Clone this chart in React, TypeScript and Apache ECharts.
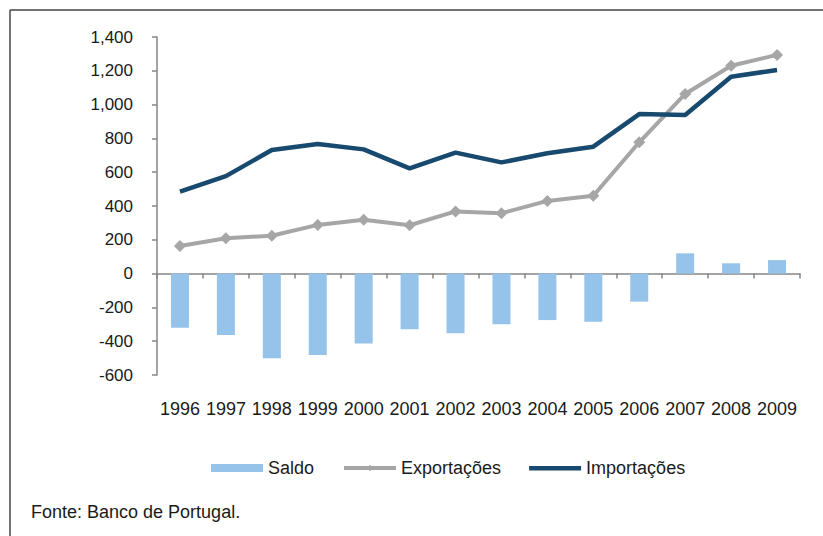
import React, { useEffect, useRef } from "react";
import * as echarts from "echarts";

const years = ["1996","1997","1998","1999","2000","2001","2002","2003","2004","2005","2006","2007","2008","2009"];
const saldo = [-320, -363, -501, -482, -413, -330, -353, -300, -275, -285, -166, 120, 61, 80];
const exportacoes = [163, 209, 224, 288, 318, 286, 368, 357, 430, 461, 777, 1063, 1230, 1294];
const importacoes = [485, 577, 731, 767, 735, 623, 716, 658, 712, 751, 944, 938, 1165, 1205];

const FONT = "'Liberation Sans', Arial, sans-serif";
const LINE_ICON = "path://M0,0 L0,0 M0,2 L52,2 L52,6.5 L0,6.5 Z M0,8 L0,8";

export default function App() {
  const ref = useRef<HTMLDivElement>(null);
  useEffect(() => {
    if (!ref.current) return;
    const chart = echarts.init(ref.current, undefined, { renderer: "svg" });
    chart.setOption({
      animation: false,
      backgroundColor: "#ffffff",
      textStyle: { fontFamily: FONT },
      grid: { left: 157, right: 23, top: 37, bottom: 161, containLabel: false },
      legend: {
        left: 206,
        top: 454,
        itemWidth: 52,
        itemHeight: 8,
        itemGap: 28,
        textStyle: { fontSize: 18, color: "#1a1a1a", fontFamily: FONT },
        data: [
          { name: "Saldo", icon: "rect" },
          { name: "Exportações", lineStyle: { width: 4, color: "#a6a6a6" } },
          { name: "Importações", icon: LINE_ICON },
        ],
      },
      xAxis: [
        {
          type: "category",
          data: years,
          position: "bottom",
          boundaryGap: true,
          axisLine: { onZero: true, lineStyle: { color: "#868686", width: 1.5 } },
          axisTick: { show: true, interval: 0, alignWithLabel: false, length: 5, lineStyle: { color: "#868686", width: 1.5 } },
          axisLabel: { show: false, interval: 0 },
          splitLine: { show: false },
        },
        {
          type: "category",
          data: years,
          position: "bottom",
          axisLine: { show: false },
          axisTick: { show: false },
          axisLabel: { interval: 0, hideOverlap: false, margin: 25, fontSize: 18, color: "#1a1a1a", fontFamily: FONT },
          splitLine: { show: false },
        },
      ],
      yAxis: {
        type: "value",
        min: -600,
        max: 1400,
        interval: 200,
        axisLine: { show: true, lineStyle: { color: "#868686", width: 1.5 } },
        axisTick: { show: true, length: 5, lineStyle: { color: "#868686", width: 1.5 } },
        axisLabel: {
          margin: 24,
          fontSize: 17,
          color: "#1a1a1a",
          fontFamily: FONT,
          formatter: (v: number) => v.toLocaleString("en-US"),
        },
        splitLine: { show: false },
      },
      series: [
        {
          name: "Saldo",
          type: "bar",
          xAxisIndex: 0,
          data: saldo,
          barWidth: 18,
          itemStyle: { color: "#95c3ea" },
        },
        {
          name: "Exportações",
          type: "line",
          xAxisIndex: 0,
          data: exportacoes,
          symbol: "diamond",
          symbolSize: 12,
          lineStyle: { color: "#a6a6a6", width: 4 },
          itemStyle: { color: "#a6a6a6" },
        },
        {
          name: "Importações",
          type: "line",
          xAxisIndex: 0,
          data: importacoes,
          symbol: "none",
          lineStyle: { color: "#174a6e", width: 4.5 },
          itemStyle: { color: "#174a6e" },
        },
      ],
      graphic: [
        { type: "line", shape: { x1: 10, y1: 10, x2: 823, y2: 10 }, style: { stroke: "#444", lineWidth: 1.5 } },
        { type: "line", shape: { x1: 10, y1: 10, x2: 10, y2: 536 }, style: { stroke: "#444", lineWidth: 1.5 } },
        {
          type: "text",
          left: 31,
          top: 503,
          style: { text: "Fonte: Banco de Portugal.", fontSize: 18, fill: "#1a1a1a", fontFamily: FONT },
        },
      ],
    });
    return () => chart.dispose();
  }, []);
  return <div ref={ref} style={{ position: "fixed", left: 0, top: 0, width: 823, height: 536 }} />;
}
